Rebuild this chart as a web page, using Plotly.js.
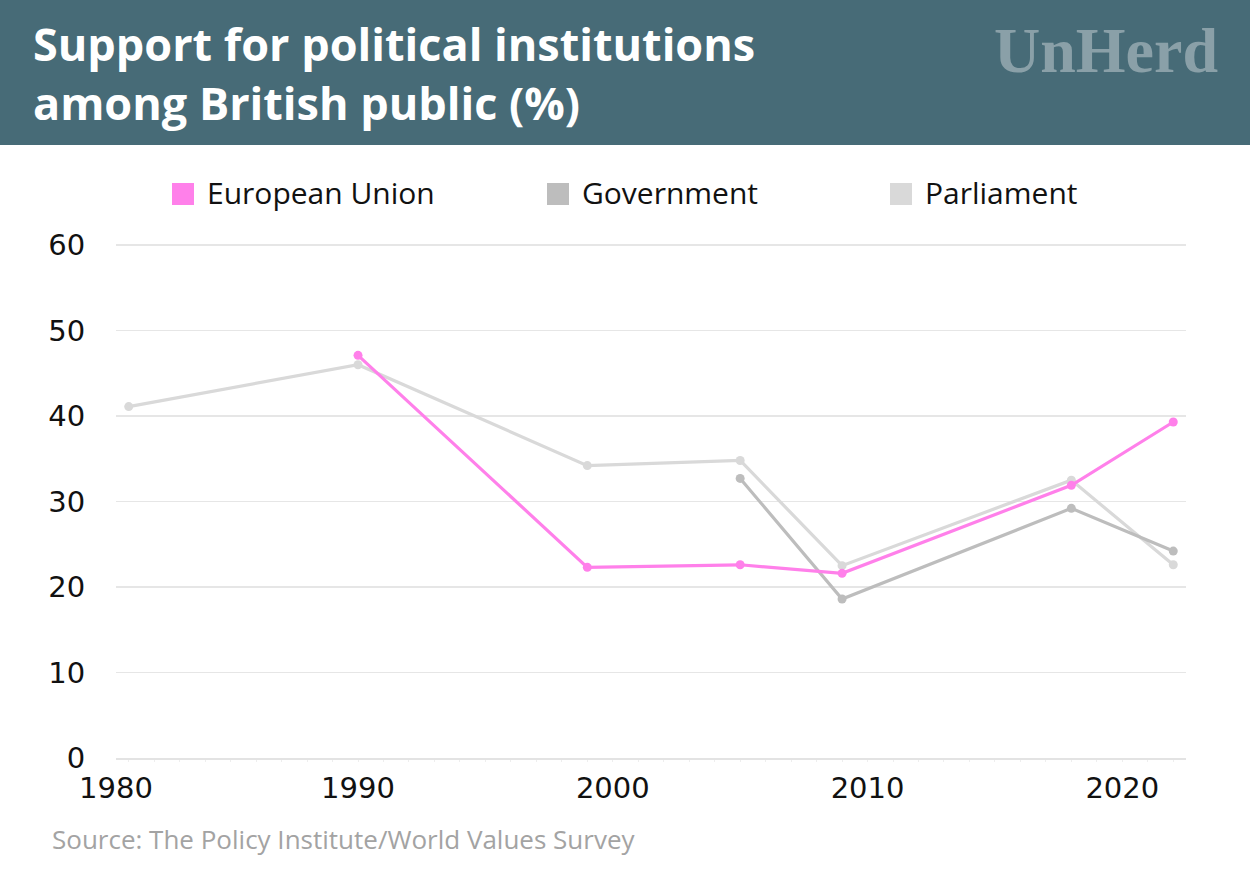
<!DOCTYPE html>
<html>
<head>
<meta charset="utf-8">
<script src="https://cdn.plot.ly/plotly-3.0.1.min.js"></script>
<style>
html,body{margin:0;padding:0;background:#fff;}
#chart{width:1250px;height:880px;}
</style>
</head>
<body>
<div id="chart"></div>
<script>
// ---- data ----
var seriesNames = ["European Union", "Government", "Parliament"];
var seriesColors = ["#ff80ea", "#bdbdbd", "#d9d9d9"];

var parliamentYears = [1981, 1990, 1999, 2005, 2009, 2018, 2022];
var parliamentValues = [41.1, 46.0, 34.2, 34.8, 22.5, 32.5, 22.6];

var governmentYears = [2005, 2009, 2018, 2022];
var governmentValues = [32.7, 18.6, 29.2, 24.2];

var euYears = [1990, 1999, 2005, 2009, 2018, 2022];
var euValues = [47.1, 22.3, 22.6, 21.6, 31.9, 39.3];

var xTickVals = [1980.5, 1990, 2000, 2010, 2020];
var xTickText = ["1980", "1990", "2000", "2010", "2020"];
var yTickVals = [0, 10, 20, 30, 40, 50, 60];

var titleLines = ["Support for political institutions", "among British public (%)"];
var sourceText = "Source: The Policy Institute/World Values Survey";
var logoText = "UnHerd";

// ---- traces ----
function mk(name, xs, ys, color) {
  return {
    type: "scatter", mode: "lines+markers", name: name,
    x: xs, y: ys, showlegend: false, hoverinfo: "x+y+name",
    line: {color: color, width: 3.2},
    marker: {color: color, size: 9}
  };
}
var traces = [
  mk("Parliament", parliamentYears, parliamentValues, seriesColors[2]),
  mk("Government", governmentYears, governmentValues, seriesColors[1]),
  mk("European Union", euYears, euValues, seriesColors[0])
];

var FONT = "'Open Sans', 'Noto Sans', sans-serif";
var NUMFONT = "'DejaVu Sans', 'Open Sans', sans-serif";

var W = 1250, H = 880, ml = 116, mr = 64, mt = 244, mb = 122;
var pw = W - ml - mr, ph = H - mt - mb;
function px2x(px) { return (px - ml) / pw; }
function px2y(py) { return (H - mb - py) / ph; }

var legendX = [172, 547, 890];
var shapes = [{
  type: "rect", xref: "paper", yref: "paper", layer: "below",
  x0: px2x(0), x1: px2x(W), y0: px2y(145), y1: px2y(0),
  fillcolor: "#476b77", line: {width: 0}
}];
var annotations = [];
for (var i = 0; i < seriesNames.length; i++) {
  shapes.push({
    type: "rect", xref: "paper", yref: "paper",
    x0: px2x(legendX[i]), x1: px2x(legendX[i] + 22),
    y0: px2y(205), y1: px2y(183),
    fillcolor: seriesColors[i], line: {width: 0}
  });
  annotations.push({
    xref: "paper", yref: "paper", x: px2x(legendX[i] + 33), y: px2y(193),
    xanchor: "left", yanchor: "middle", showarrow: false,
    text: seriesNames[i], font: {family: FONT, size: 30, color: "#111"}
  });
}
annotations.push({
  xref: "paper", yref: "paper", x: px2x(31), y: px2y(73),
  xanchor: "left", yanchor: "middle", showarrow: false, align: "left",
  text: "<b>" + titleLines[0] + "</b><br><b>" + titleLines[1] + "</b>",
  font: {family: FONT, size: 45, color: "#ffffff"}
});
annotations.push({
  xref: "paper", yref: "paper", x: px2x(1220), y: px2y(50),
  xanchor: "right", yanchor: "middle", showarrow: false,
  text: "<b>" + logoText + "</b>",
  font: {family: "'Liberation Serif', 'DejaVu Serif', serif", size: 64, color: "#8aa0a8"}
});
annotations.push({
  xref: "paper", yref: "paper", x: px2x(50), y: px2y(839),
  xanchor: "left", yanchor: "middle", showarrow: false,
  text: sourceText, font: {family: FONT, size: 26, color: "#a3a3a3"}
});

var layout = {
  width: W, height: H,
  margin: {l: ml, r: mr, t: mt, b: mb, pad: 0},
  paper_bgcolor: "#ffffff", plot_bgcolor: "#ffffff",
  showlegend: false,
  font: {family: FONT, size: 28, color: "#111"},
  xaxis: {
    range: [1980.5, 2022.5], tickmode: "array",
    tickvals: xTickVals, ticktext: xTickText,
    showgrid: false, zeroline: false, showline: true,
    linecolor: "#e3e3e3", linewidth: 1.5,
    ticks: "outside", ticklen: 4, tickcolor: "rgba(0,0,0,0)",
    tickfont: {family: NUMFONT, size: 29, color: "#111"},
    minor: {dtick: 1, tick0: 1980, ticks: "outside", ticklen: 2, tickcolor: "#eeeeee", tickwidth: 1, showgrid: false},
    fixedrange: true
  },
  yaxis: {
    range: [0, 60.12], tickmode: "array", tickvals: yTickVals,
    showgrid: true, gridcolor: "#e6e6e6", gridwidth: 1.2,
    zeroline: false, showline: false, ticks: "outside", ticklen: 24, tickcolor: "rgba(0,0,0,0)",
    tickfont: {family: NUMFONT, size: 29, color: "#111"},
    fixedrange: true
  },
  shapes: shapes,
  annotations: annotations
};

Plotly.newPlot("chart", traces, layout, {displayModeBar: false, staticPlot: true});
</script>
</body>
</html>
